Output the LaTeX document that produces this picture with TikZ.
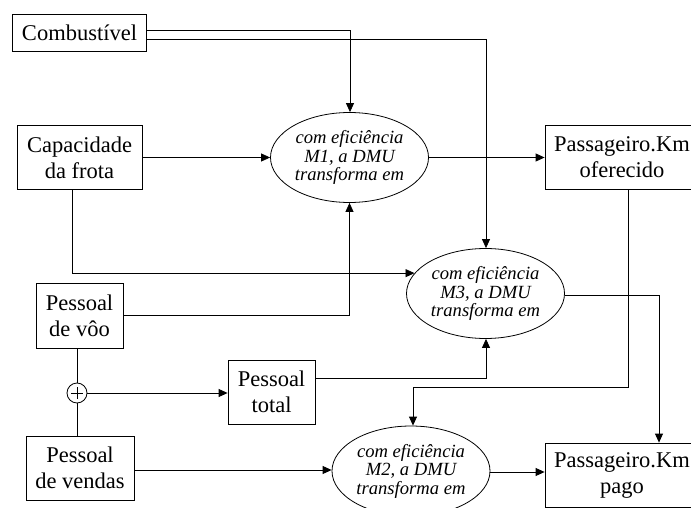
\documentclass[tikz,border=0pt]{standalone}
\usepackage{fontspec}
\setmainfont{Liberation Serif}
\usetikzlibrary{shapes.geometric,arrows.meta}
\begin{document}
\begin{tikzpicture}[x=1pt,y=-1pt,
  box/.style={draw,line width=0.8pt,inner sep=0pt,align=center,font=\fontsize{22.5}{26}\selectfont},
  proc/.style={draw,ellipse,line width=0.8pt,inner sep=0pt,minimum width=158pt,minimum height=90pt,align=center,font=\fontsize{18.6}{18.5}\selectfont\itshape},
  conn/.style={line width=0.8pt},
  arr/.style={conn,-{Triangle[length=9pt,width=8pt]}},
  plusnode/.style={draw,circle,line width=0.8pt,minimum size=20pt,inner sep=0pt,
    path picture={\draw[line width=0.6pt] ([xshift=-6pt]path picture bounding box.center) -- ([xshift=6pt]path picture bounding box.center)
      ([yshift=-6pt]path picture bounding box.center) -- ([yshift=6pt]path picture bounding box.center);}}]
\useasboundingbox (0,0) rectangle (691,508);
% boxes
\node[box,minimum width=134.5pt,minimum height=37pt] (comb) at (79.5,32.5) {Combustível};
\node[box,minimum width=125pt,minimum height=64pt] (cap) at (79.5,157.5) {Capacidade\\da frota};
\node[box,minimum width=87pt,minimum height=65pt] (voo) at (79.5,315.5) {Pessoal\\de vôo};
\node[box,minimum width=108pt,minimum height=64pt] (vend) at (80,468) {Pessoal\\de vendas};
\node[box,minimum width=87pt,minimum height=64pt] (total) at (271.5,392) {Pessoal\\total};
\node[box,minimum width=154pt,minimum height=64pt] (ofer) at (622,157) {Passageiro.Km\\oferecido};
\node[box,minimum width=154pt,minimum height=64pt] (pago) at (622,475) {Passageiro.Km\\pago};
% ellipses
\node[proc] (M1) at (349.5,157.5) {com eficiência\\M1, a DMU\\transforma em};
\node[proc] (M3) at (485.5,293.5) {com eficiência\\M3, a DMU\\transforma em};
\node[proc] (M2) at (411,471) {com eficiência\\M2, a DMU\\transforma em};
% sum
\node[plusnode] (plus) at (77,393) {};
% connectors
\draw[arr] ([yshift=1.8pt]comb.east) -| ([xshift=0.5pt]M1.north);
\draw[arr] ([yshift=-6.5pt]comb.east) -| ([xshift=0.5pt]M3.north);
\draw[arr] (cap.east) -- (M1.west);
\draw[arr] (M1.east) -- (M1.east -| ofer.west);
\draw[arr] ([xshift=-7.5pt]cap.south) |- (M3.164.85);
\draw[arr] (voo.east) -| (M1.south);
\draw[conn] (plus.north) -- (plus.north |- voo.south);
\draw[conn] (plus.south) -- (plus.south |- vend.north);
\draw[arr] (plus.east) -- (plus.east -| total.west);
\draw[arr] ([yshift=14pt]total.east) -| ([xshift=0.5pt]M3.south);
\draw[arr] ([yshift=-2pt]vend.east) -- ([yshift=-2pt]vend.east -| M2.west);
\draw[arr] ([yshift=-1pt]M2.east) -- ([yshift=-1pt]M2.east -| pago.west);
\draw[arr] ([xshift=6pt]ofer.south) |- ([xshift=2pt,yshift=38pt]M2.north) -- ([xshift=2pt]M2.north);
\draw[arr] ([yshift=-1.5pt]M3.east) -| ([xshift=37pt]pago.north);
\end{tikzpicture}
\end{document}
